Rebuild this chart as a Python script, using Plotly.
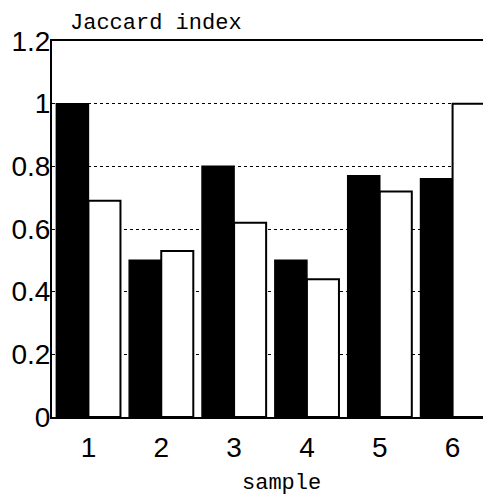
import plotly.graph_objects as go

samples = [1, 2, 3, 4, 5, 6]
series_black = [1.0, 0.50, 0.80, 0.50, 0.77, 0.76]
series_white = [0.69, 0.53, 0.62, 0.44, 0.72, 1.0]
y_ticks = [0, 0.2, 0.4, 0.6, 0.8, 1, 1.2]
y_labels = ["0", "0.2", "0.4", "0.6", "0.8", "1", "1.2"]

fig = go.Figure()
fig.add_trace(go.Bar(x=samples, y=series_black, marker=dict(color="black", line=dict(color="black", width=1.5))))
fig.add_trace(go.Bar(x=samples, y=series_white, marker=dict(color="white", line=dict(color="black", width=2))))

fig.update_layout(
    width=483, height=487,
    margin=dict(l=44, r=2, t=33, b=78, autoexpand=False),
    paper_bgcolor="white", plot_bgcolor="white",
    showlegend=False,
    barmode="group", bargap=0.12, bargroupgap=0,
    font=dict(family="Liberation Sans, Arial", color="black"),
    xaxis=dict(range=[0.5, 6.5], tickvals=samples, ticktext=[str(s) for s in samples],
               tickfont=dict(size=28), showgrid=False, showline=True, linecolor="black",
               linewidth=2, mirror=True, ticks="", ticklabelstandoff=4, zeroline=False,
               automargin=False),
    yaxis=dict(range=[0, 1.2], tickvals=y_ticks, ticktext=y_labels, tickfont=dict(size=28),
               showgrid=True, gridcolor="black", griddash="dot", gridwidth=1,
               showline=True, linecolor="black", linewidth=2, mirror=True, ticks="",
               ticklabelstandoff=-6, zeroline=False, automargin=False),
    annotations=[
        dict(text="Jaccard index", xref="paper", yref="paper", x=0.036, y=1, xanchor="left",
             yanchor="middle", yshift=18, showarrow=False,
             font=dict(family="Liberation Mono, Courier New", size=22, color="black")),
        dict(text="sample", xref="paper", yref="paper", x=0.526, y=0, xanchor="center",
             yanchor="middle", yshift=-66, showarrow=False,
             font=dict(family="Liberation Mono, Courier New", size=22, color="black")),
    ],
)

fig.write_html("out.html")
